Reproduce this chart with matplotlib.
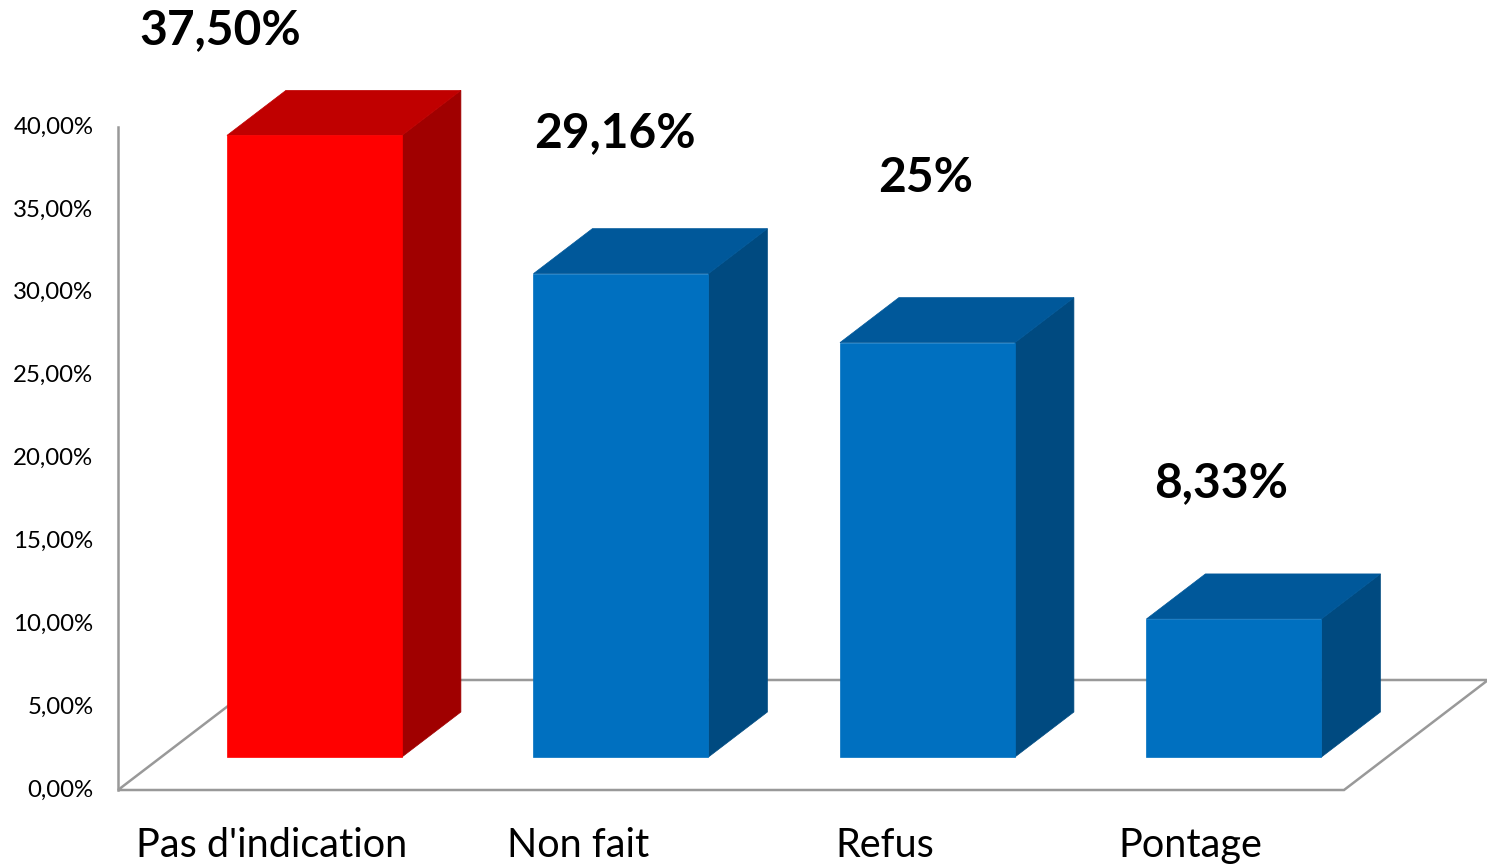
import matplotlib.pyplot as plt
from matplotlib.patches import Polygon

plt.rcParams['font.family'] = ['Lato', 'DejaVu Sans']

# données
categories = ["Pas d'indication", "Non fait", "Refus", "Pontage"]
valeurs = [37.50, 29.16, 25.0, 8.33]
etiquettes = ["37,50%", "29,16%", "25%", "8,33%"]
# décalage des étiquettes de valeur (x en catégories, y en points de %)
etiq_dx = [-0.165, 0.121, 0.135, 0.098]
etiq_dy = [8.35, 10.48, 11.93, 10.19]
graduations = [0, 5, 10, 15, 20, 25, 30, 35, 40]

# couleurs (face avant, dessus, côté)
rouge = ('#FF0000', '#C00000', '#A00000')
bleu = ('#0070C0', '#00589A', '#004A80')
couleurs = [rouge, bleu, bleu, bleu]

# géométrie de la perspective
prof_x, prof_y = 0.47, 6.637      # profondeur totale du sol
f_av, f_ar = 0.30, 0.709          # position des barres dans la profondeur
demi_larg = 0.2855
gris = '#999999'

fig = plt.figure(figsize=(14.87, 8.66), dpi=100)
ax = fig.add_axes([0, 0, 1, 1])
ax.set_xlim(-0.885, 3.9665)
ax.set_ylim(-4.585, 47.66)
ax.axis('off')

# sol
n = len(categories)
sol = Polygon([(-0.5, 0), (n - 0.5, 0), (n - 0.5 + prof_x, prof_y),
               (-0.5 + prof_x, prof_y)], closed=True,
              facecolor='white', edgecolor=gris, lw=1.8, zorder=1)
ax.add_patch(sol)

# axe vertical et graduations
ax.plot([-0.5, -0.5], [0, graduations[-1]], color=gris, lw=1.8, zorder=2)
for g in graduations:
    ax.text(-0.58, g, f"{g},00%", ha='right', va='center', fontsize=17.3)

# barres 3D
dx0, dy0 = f_av * prof_x, f_av * prof_y
dx1, dy1 = f_ar * prof_x, f_ar * prof_y
for i, v in enumerate(valeurs):
    c_av, c_dessus, c_cote = couleurs[i]
    g, d = i - demi_larg, i + demi_larg
    avant = [(g + dx0, dy0), (d + dx0, dy0), (d + dx0, dy0 + v), (g + dx0, dy0 + v)]
    dessus = [(g + dx0, dy0 + v), (d + dx0, dy0 + v), (d + dx1, dy1 + v), (g + dx1, dy1 + v)]
    cote = [(d + dx0, dy0), (d + dx1, dy1), (d + dx1, dy1 + v), (d + dx0, dy0 + v)]
    for pts, col in ((cote, c_cote), (dessus, c_dessus), (avant, c_av)):
        ax.add_patch(Polygon(pts, closed=True, facecolor=col, edgecolor=col,
                             lw=0.5, zorder=3))

    ax.text(i + etiq_dx[i], v + etiq_dy[i], etiquettes[i], ha='center',
            va='center', fontsize=34.5, fontweight='bold', color='black', zorder=4)
    ax.text(i, -3.32, categories[i], ha='center', va='center', fontsize=28.5)

fig.savefig('out.png', dpi=100)
